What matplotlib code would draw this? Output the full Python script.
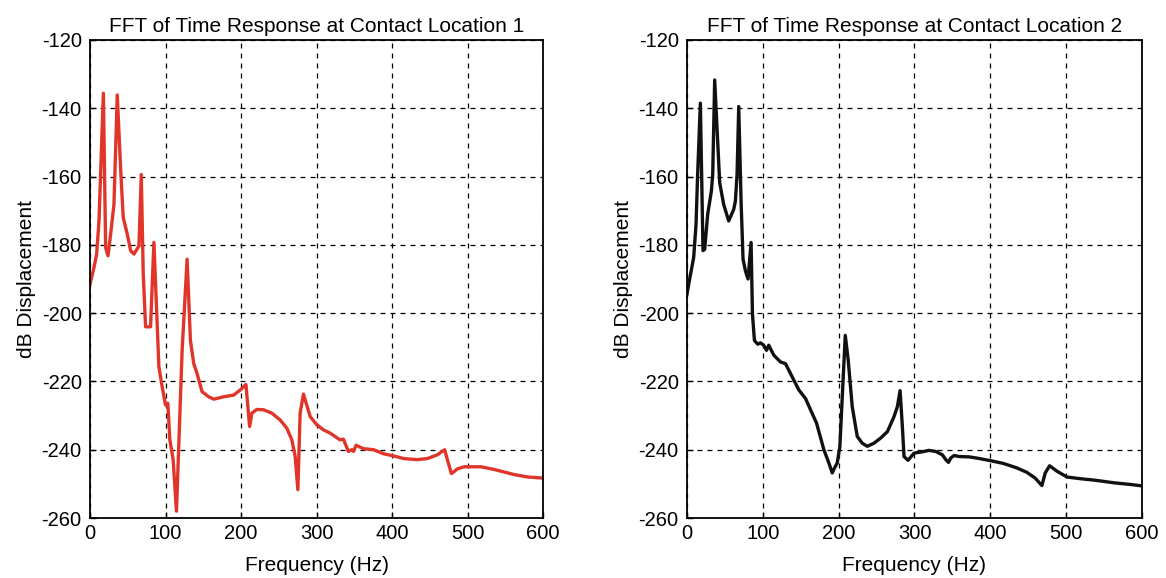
import matplotlib
matplotlib.use("Agg")
import matplotlib.pyplot as plt

plt.rcParams['font.family'] = ['Liberation Sans', 'DejaVu Sans']
plt.rcParams['axes.unicode_minus'] = False

# Contact location 1 (red)
freq1 = [0, 5.3, 8.8, 11.9, 14, 17.7, 20.7, 23.8, 27.3, 31.7, 36.1, 40.5, 44, 49.4, 53.8, 58.2,
         64.8, 67.9, 70.5, 73.6, 80.2, 84.6, 88.1, 91.2, 95.6, 100, 103.1, 105.7, 110.1, 114.5,
         122, 128.6, 133, 137.4, 141.8, 148.4, 157.2, 163.8, 177, 190.2, 199, 206.5, 211.4,
         214.4, 221, 229.8, 240.9, 251.9, 260.7, 267.3, 271.7, 275.3, 278.3, 282.7, 291.6,
         300.4, 309.2, 317.8, 331.1, 335.6, 342.2, 346.7, 348.9, 352.4, 362.2, 375.6, 388.9,
         400, 415.6, 433.3, 446.7, 460, 469.8, 473.3, 478.7, 486.7, 495.6, 517.8, 535.6,
         562.2, 580, 600]
db1 = [-191.5, -186.6, -182.7, -173, -159.4, -135.6, -180.8, -183.2, -176.9, -168.2, -136.1,
       -157.5, -172, -176.9, -181.7, -182.7, -180.3, -159.4, -188.5, -204, -204, -179.3,
       -198.3, -215.7, -221.6, -226.9, -226.4, -237, -242.9, -258, -210.9, -184.2, -208,
       -214.8, -217.7, -223, -224.5, -225.2, -224.5, -224, -222.5, -220.9, -233.2, -229.3,
       -228.2, -228.3, -229.3, -231.3, -233.7, -237.1, -241.9, -251.7, -229.3, -223.7,
       -230.3, -232.7, -234.2, -235.1, -237.1, -236.9, -240.5, -240, -240.5, -238.7, -239.7,
       -240, -241.2, -241.7, -242.6, -242.9, -242.6, -241.5, -240, -242.9, -247, -245.6,
       -245, -245, -245.8, -247.3, -248, -248.3]

# Contact location 2 (black)
freq2 = [0, 3.5, 8.8, 11.9, 14, 17.6, 21.1, 23.3, 27.3, 32.1, 33.9, 36.5, 43.1, 48.4, 55,
         61.6, 63.8, 66, 68.2, 71.3, 73.9, 77, 80.5, 84.5, 86.3, 88.9, 93.3, 96.8, 101.2,
         104.8, 107.8, 114.4, 123.3, 129.9, 136.5, 147.5, 156.3, 162.9, 170.8, 180.5, 187.1,
         191.5, 194.6, 198.1, 201.6, 205.2, 208.7, 212.6, 217.9, 224.5, 231.1, 237.7, 246.5,
         255.3, 264.3, 273, 277.4, 281, 284, 286.2, 291.5, 299.4, 308.2, 319, 327.9, 336.8,
         341.2, 344.8, 347.9, 352.3, 359, 372.3, 383.4, 400, 416.9, 434.6, 448, 459.1, 468,
         472.4, 478.2, 487.9, 501.3, 519, 536.8, 563.5, 585.7, 600]
db2 = [-194.4, -190, -183.7, -174, -159.4, -138.5, -181.7, -181.3, -171, -164.3, -159.4,
       -131.7, -161.8, -168.2, -173, -169.6, -167.2, -159.4, -139.5, -167.2, -184.2, -187.6,
       -190, -179.3, -200.2, -208, -209.1, -208.7, -209.4, -210.9, -209.4, -212.3, -214.3,
       -214.8, -217.7, -222.5, -225, -228.3, -232.2, -240, -243.9, -246.8, -245.3, -243.9,
       -239, -222.5, -206.5, -213.8, -227.4, -236.1, -238.1, -239, -238.1, -236.6, -234.7,
       -230.3, -227.4, -222.7, -233.2, -242, -243.1, -241, -240.7, -240.2, -240.5, -241.5,
       -242.9, -243.7, -242.4, -241.7, -242, -242.1, -242.5, -243.2, -244, -245.3, -246.6,
       -248.3, -250.5, -246.8, -244.7, -246.3, -248, -248.5, -248.9, -249.7, -250.2, -250.6]

titles = ["FFT of Time Response at Contact Location 1",
          "FFT of Time Response at Contact Location 2"]
xticks = [0, 100, 200, 300, 400, 500, 600]
yticks = [-260, -240, -220, -200, -180, -160, -140, -120]

fig = plt.figure(figsize=(11.66, 5.78), dpi=100)
ax1 = fig.add_axes([0.0772, 0.1038, 0.3885, 0.827])
ax2 = fig.add_axes([0.5892, 0.1038, 0.3902, 0.827])

for ax, f, d, col, t in [(ax1, freq1, db1, '#e03528', titles[0]),
                         (ax2, freq2, db2, '#111111', titles[1])]:
    ax.plot(f, d, color=col, linewidth=2.4, solid_joinstyle='round')
    ax.set_xlim(0, 600)
    ax.set_ylim(-260, -120)
    ax.set_xticks(xticks)
    ax.set_yticks(yticks)
    ax.grid(True, color='black', linestyle=(0, (4, 4)), linewidth=0.9)
    ax.tick_params(direction='in', labelsize=14.5, length=4, width=1)
    ax.tick_params(axis='x', pad=4)
    ax.tick_params(axis='y', pad=6)
    for s in ax.spines.values():
        s.set_linewidth(1.3)
    ax.set_title(t, fontsize=15, pad=6)
    ax.set_xlabel("Frequency (Hz)", fontsize=15, labelpad=10)
    ax.set_ylabel("dB Displacement", fontsize=15, labelpad=4)

fig.savefig("out.png", dpi=100)
